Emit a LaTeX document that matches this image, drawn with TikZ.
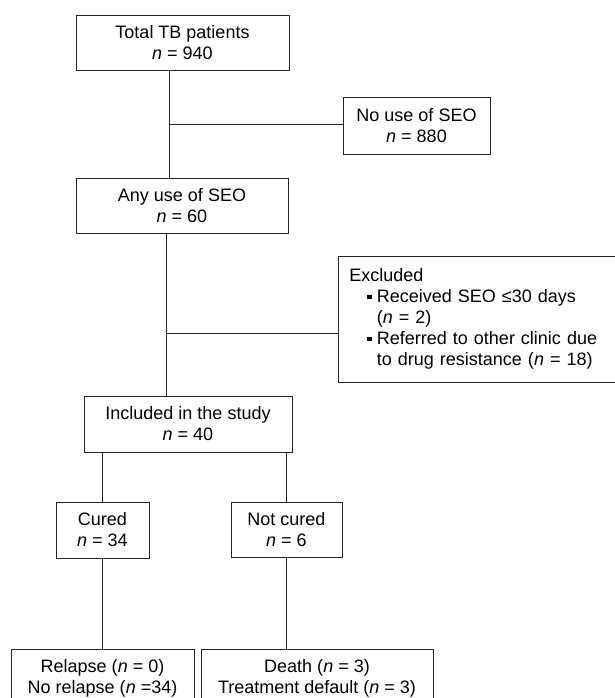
\documentclass[tikz,border=0pt]{standalone}
\usepackage{fontspec}
\setmainfont{Liberation Sans}
\usetikzlibrary{positioning}
\newcommand{\sqbul}{\rule[3.5pt]{4.5pt}{4.5pt}}
\newcommand{\exitem}[1]{\hspace*{18pt}\makebox[9.5pt][l]{\sqbul}#1}
\newcommand{\exmore}[1]{\hspace*{27.5pt}#1}

\begin{document}
\begin{tikzpicture}[x=1pt, y=-1pt,
  box/.style={draw=black!85, line width=0.9pt, align=center, inner sep=0pt,
    font=\fontsize{18}{21}\selectfont},
  link/.style={draw=black!85, line width=0.9pt}]
  \useasboundingbox (0,0) rectangle (614,698);

  % Boxes
  \node[box, minimum width=213pt, minimum height=55pt] (tot) at (182.5,42.5) {Total TB patients\\\textit{n} = 940};
  \node[box, minimum width=147pt, minimum height=57pt] (nouse) at (416.5,125.5) {No use of SEO\\\textit{n} = 880};
  \node[box, minimum width=212pt, minimum height=55pt] (any) at (182,205.5) {Any use of SEO\\\textit{n} = 60};
  \node[box, anchor=west, align=left, text width=280pt, inner xsep=11pt, minimum height=126pt] (excl) at (338,319)
    {Excluded\\
     \exitem{Received SEO ≤30 days}\\
     \exmore{(\textit{n} = 2)}\\
     \exitem{Referred to other clinic due}\\
     \exmore{to drug resistance (\textit{n} = 18)}};
  \node[box, minimum width=208pt, minimum height=56pt] (incl) at (188,424) {Included in the study\\\textit{n} = 40};
  \node[box, minimum width=93pt, minimum height=56pt] (cured) at (102.5,530) {Cured\\\textit{n} = 34};
  \node[box, minimum width=111pt, minimum height=55pt] (notc) at (286.5,529.5) {Not cured\\\textit{n} = 6};
  \node[box, minimum width=183pt, minimum height=58pt] (rel) at (102.5,678) {Relapse (\textit{n} = 0)\\No relapse (\textit{n} =34)};
  \node[box, minimum width=232pt, minimum height=58pt] (death) at (317,678) {Death (\textit{n} = 3)\\Treatment default (\textit{n} = 3)};

  % Connectors
  \coordinate (j1) at (169,124);
  \coordinate (j2) at (166,333);
  \draw[link] (j1 |- tot.south) -- (j1 |- any.north);
  \draw[link] (j1) -- (j1 -| nouse.west);
  \draw[link] (j2 |- any.south) -- (j2 |- incl.north);
  \draw[link] (j2) -- (j2 -| excl.west);
  \draw[link] (cured.north |- incl.south) -- (cured.north);
  \draw[link] (notc.north |- incl.south) -- (notc.north);
  \draw[link] (cured.south) -- (cured.south |- rel.north);
  \draw[link] (notc.south) -- (notc.south |- death.north);
\end{tikzpicture}
\end{document}
